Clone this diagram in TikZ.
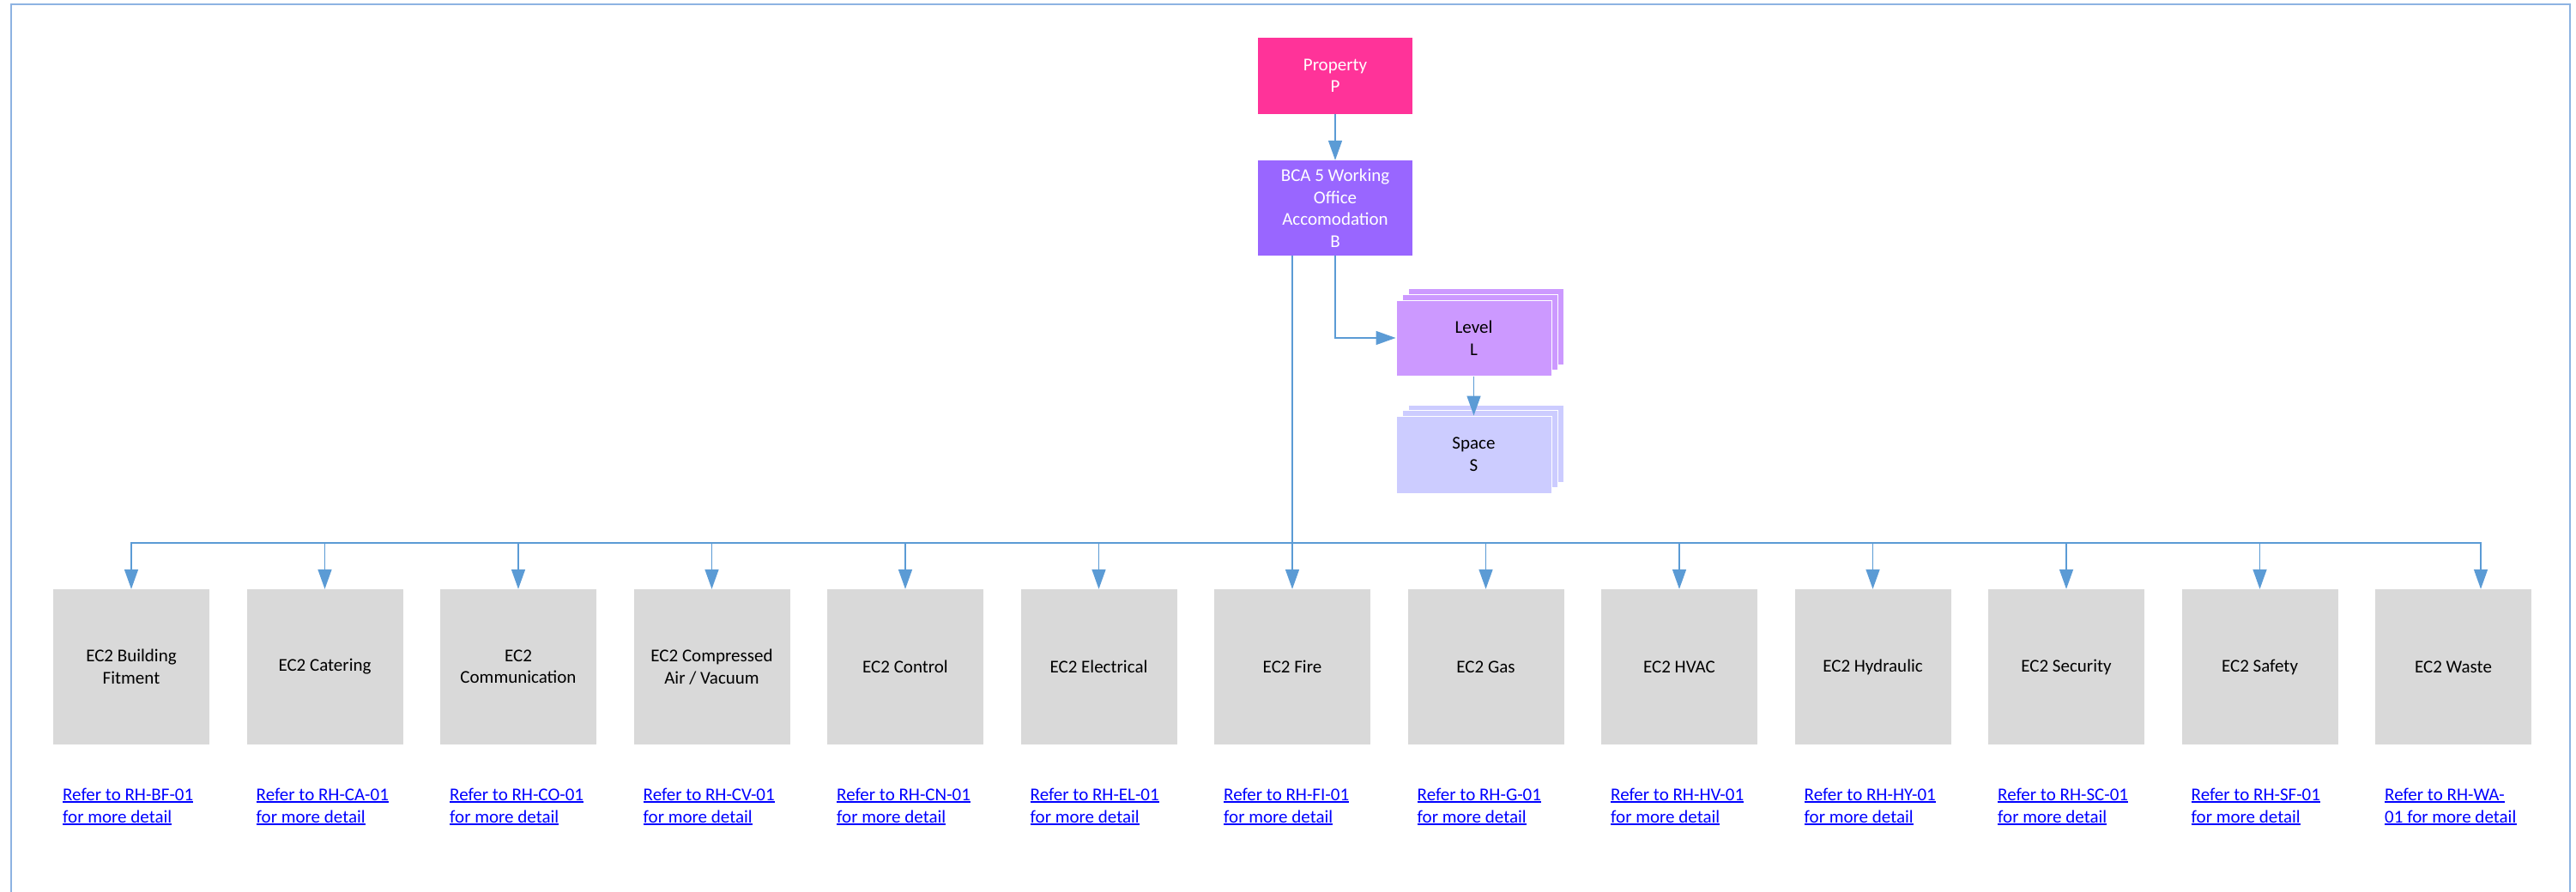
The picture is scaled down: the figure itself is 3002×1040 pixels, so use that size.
\documentclass[tikz,border=0pt]{standalone}
\usepackage{fontspec}
\setmainfont{Carlito}
\usetikzlibrary{arrows.meta}
\definecolor{pcol}{HTML}{FF3399}
\definecolor{bcol}{HTML}{9966FF}
\definecolor{lcol}{HTML}{CC99FF}
\definecolor{scol}{HTML}{CCCCFF}
\definecolor{ecol}{HTML}{D9D9D9}
\definecolor{acol}{HTML}{5B9BD5}
\definecolor{fcol}{HTML}{8DB3E2}
\definecolor{lnkc}{HTML}{0000FF}
\begin{document}
\begin{tikzpicture}[x=1pt,y=-1pt,
  box/.style={rectangle, inner sep=0pt, align=center, font=\fontsize{21}{25.5}\selectfont},
  ecbox/.style={box, fill=ecol, minimum width=182pt, minimum height=181pt},
  stackbox/.style={box, draw=white, line width=1pt, minimum width=181pt},
  conn/.style={draw=acol, line width=1.6pt, -{Triangle[length=23pt,width=16pt]}},
  lnkt/.style={anchor=base west, inner sep=0pt, text=lnkc, font=\fontsize{21}{25.5}\selectfont},
  lnkline/.style={draw=lnkc, line width=1.4pt}
]
\useasboundingbox (0,0) rectangle (3002,1040);
\clip (0,0) rectangle (3002,1040);
\fill[white] (0,0) rectangle (3002,1040);
% frame
\draw[fcol, line width=2pt] (13,1060) -- (13,5) -- (2995,5) -- (2995,1060);

% top nodes
\node[box, fill=pcol, text=white, minimum width=180pt, minimum height=89pt] (P) at (1556,88.5) {Property\\P};
\node[box, fill=bcol, text=white, minimum width=180pt, minimum height=111pt] (B) at (1556,242.5) {BCA 5 Working\\Office\\Accomodation\\B};

% level stack
\node[stackbox, fill=lcol, minimum height=88pt] (L3) at (1731.5,381) {};
\node[stackbox, fill=lcol, minimum height=88pt] (L2) at (1724.5,387.5) {};
\node[stackbox, fill=lcol, minimum height=88pt] (L) at (1717.5,394) {Level\\L};
% space stack
\node[stackbox, fill=scol, minimum height=90pt] (S3) at (1731.5,517) {};
\node[stackbox, fill=scol, minimum height=90pt] (S2) at (1724.5,523.5) {};
\node[stackbox, fill=scol, minimum height=90pt] (S) at (1717.5,530) {Space\\S};

% EC2 boxes
\node[ecbox] (E0)  at (153+225.5*0,777.5)  {EC2 Building\\Fitment};
\node[ecbox] (E1)  at (153+225.5*1,777.5)  {EC2 Catering};
\node[ecbox] (E2)  at (153+225.5*2,777.5)  {EC2\\Communication};
\node[ecbox] (E3)  at (153+225.5*3,777.5)  {EC2 Compressed\\Air / Vacuum};
\node[ecbox] (E4)  at (153+225.5*4,777.5)  {EC2 Control};
\node[ecbox] (E5)  at (153+225.5*5,777.5)  {EC2 Electrical};
\node[ecbox] (E6)  at (153+225.5*6,777.5)  {EC2 Fire};
\node[ecbox] (E7)  at (153+225.5*7,777.5)  {EC2 Gas};
\node[ecbox] (E8)  at (153+225.5*8,777.5)  {EC2 HVAC};
\node[ecbox] (E9)  at (153+225.5*9,777.5)  {EC2 Hydraulic};
\node[ecbox] (E10) at (153+225.5*10,777.5) {EC2 Security};
\node[ecbox] (E11) at (153+225.5*11,777.5) {EC2 Safety};
\node[ecbox] (E12) at (153+225.5*12,777.5) {EC2 Waste};

% connectors
\draw[conn] (P) -- (B);
\draw[conn] (B.south) |- (L.west);
\draw[conn] (L.south) -- (S.north);
\coordinate (bsrc) at ([xshift=-50pt]B.south);
\coordinate (bus) at (0,633);
\foreach \i in {0,...,11}{
  \draw[conn] (bsrc) -- (bsrc |- bus) -| (E\i.north);
}
\draw[conn] (bsrc) -- (bsrc |- bus) -| ([xshift=32pt]E12.north);

% link labels
\foreach \i/\code in {0/BF,1/CA,2/CO,3/CV,4/CN,5/EL,6/FI,7/G,8/HV,9/HY,10/SC,11/SF}{
  \node[lnkt] (Ra\i) at (73+225.5*\i,933) {Refer to RH-\code-01};
  \node[lnkt] (Rb\i) at (73+225.5*\i,959) {for more detail};
  \draw[lnkline] ([yshift=-2pt]Ra\i.base west) -- ([yshift=-2pt]Ra\i.base east);
  \draw[lnkline] ([yshift=-2pt]Rb\i.base west) -- ([yshift=-2pt]Rb\i.base east);
}
\node[lnkt] (Ra12) at (73+225.5*12,933) {Refer to RH-WA-};
\node[lnkt] (Rb12) at (73+225.5*12,959) {01 for more detail};
\draw[lnkline] ([yshift=-2pt]Ra12.base west) -- ([yshift=-2pt]Ra12.base east);
\draw[lnkline] ([yshift=-2pt]Rb12.base west) -- ([yshift=-2pt]Rb12.base east);
\end{tikzpicture}
\end{document}
